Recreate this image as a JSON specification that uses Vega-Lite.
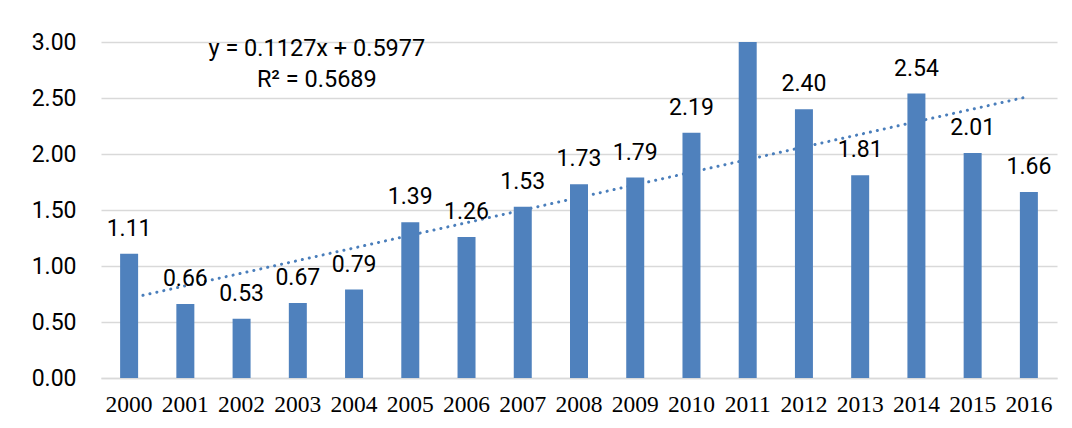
{
  "$schema": "https://vega.github.io/schema/vega-lite/v6.json",
  "width": 956,
  "height": 336,
  "autosize": "none",
  "padding": {"left": 101, "top": 42, "right": 15, "bottom": 50},
  "background": "white",
  "config": {
    "view": {"stroke": null},
    "font": "Roboto"
  },
  "datasets": {
    "bars": [
      {"year": "2000", "value": 1.11},
      {"year": "2001", "value": 0.66},
      {"year": "2002", "value": 0.53},
      {"year": "2003", "value": 0.67},
      {"year": "2004", "value": 0.79},
      {"year": "2005", "value": 1.39},
      {"year": "2006", "value": 1.26},
      {"year": "2007", "value": 1.53},
      {"year": "2008", "value": 1.73},
      {"year": "2009", "value": 1.79},
      {"year": "2010", "value": 2.19},
      {"year": "2011", "value": 3.33},
      {"year": "2012", "value": 2.40},
      {"year": "2013", "value": 1.81},
      {"year": "2014", "value": 2.54},
      {"year": "2015", "value": 2.01},
      {"year": "2016", "value": 1.66}
    ],
    "trend": [
      {"year": "2000", "value": 0.7104},
      {"year": "2016", "value": 2.5136}
    ],
    "eq": [
      {"year": "2003", "value": 2.94, "label": "y = 0.1127x + 0.5977"},
      {"year": "2003", "value": 2.66, "label": "R² = 0.5689"}
    ]
  },
  "encoding": {
    "x": {
      "field": "year",
      "type": "ordinal",
      "scale": {"paddingInner": 0.68, "paddingOuter": 0.34},
      "axis": {
        "title": null,
        "labelAngle": 0,
        "labelFont": "Liberation Serif",
        "labelFontSize": 23.5,
        "labelColor": "#000000",
        "labelPadding": 14,
        "ticks": false,
        "domainColor": "#D9D9D9",
        "domainWidth": 1.5,
        "grid": false
      }
    },
    "y": {
      "field": "value",
      "type": "quantitative",
      "scale": {"domain": [0, 3], "nice": false},
      "axis": {
        "title": null,
        "values": [0, 0.5, 1, 1.5, 2, 2.5, 3],
        "format": ".2f",
        "labelFont": "Roboto",
        "labelFontSize": 23,
        "labelColor": "#000000",
        "labelPadding": 25,
        "ticks": false,
        "domain": false,
        "gridColor": "#D9D9D9",
        "gridWidth": 1.5
      }
    }
  },
  "layer": [
    {
      "data": {"name": "trend"},
      "mark": {"type": "line", "color": "#4A7EBB", "strokeWidth": 3, "strokeDash": [0.1, 7], "strokeCap": "round"}
    },
    {
      "data": {"name": "bars"},
      "mark": {"type": "bar", "color": "#4F81BD", "clip": true}
    },
    {
      "data": {"name": "bars"},
      "transform": [{"filter": "datum.value <= 3"}],
      "mark": {"type": "text", "baseline": "bottom", "dy": -13, "fontSize": 23, "font": "Roboto", "color": "#000000"},
      "encoding": {"text": {"field": "value", "type": "quantitative", "format": ".2f"}}
    },
    {
      "data": {"name": "eq"},
      "mark": {"type": "text", "baseline": "middle", "dx": 19, "fontSize": 23.5, "font": "Roboto", "color": "#000000"},
      "encoding": {"text": {"field": "label"}}
    }
  ]
}
